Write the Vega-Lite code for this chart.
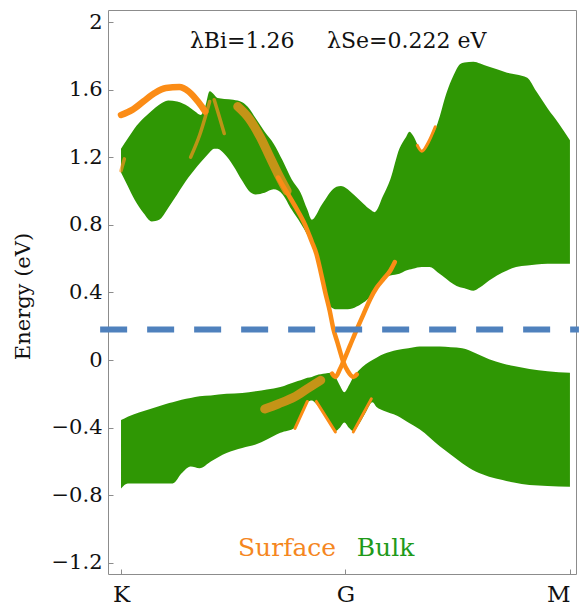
{
  "$schema": "https://vega.github.io/schema/vega-lite/v6.json",
  "width": 468,
  "height": 564,
  "autosize": {"type": "none"},
  "padding": {"left": 108, "top": 10, "right": 3, "bottom": 33},
  "background": "white",
  "config": {
    "view": {"stroke": "#8c8c8c", "strokeWidth": 1},
    "font": "DejaVu Serif"
  },
  "datasets": {
    "bulk": [
      {"b":"c","x":0.00,"y":1.11,"y2":1.25},{"b":"c","x":0.03,"y":1.03,"y2":1.31},{"b":"c","x":0.06,"y":0.95,"y2":1.37},
      {"b":"c","x":0.10,"y":0.87,"y2":1.43},{"b":"c","x":0.137,"y":0.82,"y2":1.475},{"b":"c","x":0.17,"y":0.83,"y2":1.51},
      {"b":"c","x":0.21,"y":0.90,"y2":1.535},{"b":"c","x":0.25,"y":0.98,"y2":1.53},{"b":"c","x":0.30,"y":1.08,"y2":1.50},
      {"b":"c","x":0.33,"y":1.13,"y2":1.47},{"b":"c","x":0.355,"y":1.17,"y2":1.45},{"b":"c","x":0.375,"y":1.20,"y2":1.50},
      {"b":"c","x":0.395,"y":1.23,"y2":1.59},{"b":"c","x":0.415,"y":1.25,"y2":1.57},{"b":"c","x":0.43,"y":1.25,"y2":1.55},
      {"b":"c","x":0.46,"y":1.22,"y2":1.545},{"b":"c","x":0.50,"y":1.15,"y2":1.54},{"b":"c","x":0.54,"y":1.06,"y2":1.525},
      {"b":"c","x":0.57,"y":1.00,"y2":1.49},{"b":"c","x":0.60,"y":0.98,"y2":1.43},{"b":"c","x":0.64,"y":0.99,"y2":1.35},
      {"b":"c","x":0.68,"y":1.01,"y2":1.28},{"b":"c","x":0.72,"y":0.98,"y2":1.18},{"b":"c","x":0.76,"y":0.89,"y2":1.07},
      {"b":"c","x":0.80,"y":0.81,"y2":0.99},{"b":"c","x":0.83,"y":0.74,"y2":0.89},{"b":"c","x":0.85,"y":0.68,"y2":0.83},
      {"b":"c","x":0.87,"y":0.60,"y2":0.86},{"b":"c","x":0.89,"y":0.50,"y2":0.91},{"b":"c","x":0.91,"y":0.38,"y2":0.95},
      {"b":"c","x":0.93,"y":0.32,"y2":0.99},{"b":"c","x":0.96,"y":0.30,"y2":1.025},{"b":"c","x":0.98,"y":0.30,"y2":1.03},
      {"b":"c","x":1.00,"y":0.30,"y2":1.02},{"b":"c","x":1.04,"y":0.31,"y2":0.975},{"b":"c","x":1.08,"y":0.34,"y2":0.925},
      {"b":"c","x":1.11,"y":0.375,"y2":0.89},{"b":"c","x":1.13,"y":0.41,"y2":0.875},{"b":"c","x":1.167,"y":0.48,"y2":0.97},
      {"b":"c","x":1.20,"y":0.50,"y2":1.07},{"b":"c","x":1.24,"y":0.51,"y2":1.25},{"b":"c","x":1.27,"y":0.53,"y2":1.32},
      {"b":"c","x":1.285,"y":0.535,"y2":1.35},{"b":"c","x":1.30,"y":0.54,"y2":1.33},{"b":"c","x":1.34,"y":0.55,"y2":1.24},
      {"b":"c","x":1.375,"y":0.55,"y2":1.30},{"b":"c","x":1.41,"y":0.52,"y2":1.40},{"b":"c","x":1.45,"y":0.48,"y2":1.58},
      {"b":"c","x":1.48,"y":0.45,"y2":1.68},{"b":"c","x":1.51,"y":0.43,"y2":1.75},{"b":"c","x":1.53,"y":0.425,"y2":1.76},
      {"b":"c","x":1.57,"y":0.41,"y2":1.765},{"b":"c","x":1.60,"y":0.43,"y2":1.755},{"b":"c","x":1.64,"y":0.47,"y2":1.735},
      {"b":"c","x":1.675,"y":0.50,"y2":1.72},{"b":"c","x":1.72,"y":0.53,"y2":1.70},{"b":"c","x":1.76,"y":0.55,"y2":1.69},
      {"b":"c","x":1.81,"y":0.56,"y2":1.67},{"b":"c","x":1.85,"y":0.565,"y2":1.59},{"b":"c","x":1.90,"y":0.57,"y2":1.49},
      {"b":"c","x":1.95,"y":0.57,"y2":1.40},{"b":"c","x":2.00,"y":0.57,"y2":1.30},
      {"b":"v","x":0.00,"y":-0.76,"y2":-0.355},{"b":"v","x":0.03,"y":-0.73,"y2":-0.335},{"b":"v","x":0.08,"y":-0.73,"y2":-0.31},
      {"b":"v","x":0.13,"y":-0.73,"y2":-0.29},{"b":"v","x":0.20,"y":-0.73,"y2":-0.26},{"b":"v","x":0.23,"y":-0.73,"y2":-0.25},
      {"b":"v","x":0.27,"y":-0.67,"y2":-0.235},{"b":"v","x":0.31,"y":-0.63,"y2":-0.225},{"b":"v","x":0.35,"y":-0.64,"y2":-0.215},
      {"b":"v","x":0.40,"y":-0.60,"y2":-0.21},{"b":"v","x":0.47,"y":-0.55,"y2":-0.20},{"b":"v","x":0.54,"y":-0.52,"y2":-0.195},
      {"b":"v","x":0.60,"y":-0.50,"y2":-0.185},{"b":"v","x":0.65,"y":-0.47,"y2":-0.175},{"b":"v","x":0.71,"y":-0.43,"y2":-0.16},
      {"b":"v","x":0.775,"y":-0.40,"y2":-0.13},{"b":"v","x":0.80,"y":-0.33,"y2":-0.12},{"b":"v","x":0.83,"y":-0.25,"y2":-0.105},
      {"b":"v","x":0.85,"y":-0.24,"y2":-0.10},{"b":"v","x":0.87,"y":-0.26,"y2":-0.09},{"b":"v","x":0.91,"y":-0.33,"y2":-0.08},
      {"b":"v","x":0.935,"y":-0.38,"y2":-0.075},{"b":"v","x":0.955,"y":-0.42,"y2":-0.10},{"b":"v","x":0.975,"y":-0.40,"y2":-0.15},
      {"b":"v","x":0.995,"y":-0.37,"y2":-0.19},{"b":"v","x":1.015,"y":-0.40,"y2":-0.15},{"b":"v","x":1.035,"y":-0.42,"y2":-0.10},
      {"b":"v","x":1.06,"y":-0.38,"y2":-0.06},{"b":"v","x":1.09,"y":-0.31,"y2":-0.025},{"b":"v","x":1.12,"y":-0.25,"y2":0.0},
      {"b":"v","x":1.14,"y":-0.28,"y2":0.015},{"b":"v","x":1.17,"y":-0.30,"y2":0.035},{"b":"v","x":1.23,"y":-0.33,"y2":0.06},
      {"b":"v","x":1.28,"y":-0.37,"y2":0.07},{"b":"v","x":1.33,"y":-0.41,"y2":0.08},{"b":"v","x":1.42,"y":-0.51,"y2":0.08},
      {"b":"v","x":1.47,"y":-0.56,"y2":0.075},{"b":"v","x":1.52,"y":-0.61,"y2":0.07},{"b":"v","x":1.58,"y":-0.66,"y2":0.04},
      {"b":"v","x":1.64,"y":-0.69,"y2":0.005},{"b":"v","x":1.70,"y":-0.71,"y2":-0.02},{"b":"v","x":1.75,"y":-0.725,"y2":-0.035},
      {"b":"v","x":1.82,"y":-0.74,"y2":-0.053},{"b":"v","x":1.90,"y":-0.745,"y2":-0.066},{"b":"v","x":2.00,"y":-0.75,"y2":-0.075}
    ],
    "tintWide": [
      {"s":"t1","x":0.52,"y":1.50},{"s":"t1","x":0.57,"y":1.43},{"s":"t1","x":0.62,"y":1.32},{"s":"t1","x":0.66,"y":1.21},
      {"s":"t1","x":0.70,"y":1.10},{"s":"t1","x":0.74,"y":1.00},
      {"s":"t3","x":0.64,"y":-0.29},{"s":"t3","x":0.70,"y":-0.26},{"s":"t3","x":0.77,"y":-0.22},{"s":"t3","x":0.83,"y":-0.17},{"s":"t3","x":0.89,"y":-0.12}
    ],
    "tintNarrow": [
      {"s":"t2","x":0.31,"y":1.20},{"s":"t2","x":0.35,"y":1.33},{"s":"t2","x":0.395,"y":1.53},
      {"s":"t6","x":0.0,"y":1.12},{"s":"t6","x":0.015,"y":1.19},
      {"s":"t7","x":0.415,"y":1.54},{"s":"t7","x":0.44,"y":1.43},{"s":"t7","x":0.46,"y":1.34}
    ],
    "surfThick": [
      {"s":"s1","x":0.00,"y":1.45},{"s":"s1","x":0.05,"y":1.48},{"s":"s1","x":0.10,"y":1.53},{"s":"s1","x":0.15,"y":1.58},
      {"s":"s1","x":0.20,"y":1.61},{"s":"s1","x":0.26,"y":1.615},{"s":"s1","x":0.30,"y":1.59},{"s":"s1","x":0.33,"y":1.55},
      {"s":"s1","x":0.36,"y":1.50},{"s":"s1","x":0.375,"y":1.47}
    ],
    "surfMain": [
      {"s":"s2","x":0.70,"y":1.08},{"s":"s2","x":0.74,"y":0.99},{"s":"s2","x":0.78,"y":0.90},{"s":"s2","x":0.82,"y":0.80},
      {"s":"s2","x":0.85,"y":0.70},{"s":"s2","x":0.87,"y":0.63},{"s":"s2","x":0.89,"y":0.52},{"s":"s2","x":0.91,"y":0.40},
      {"s":"s2","x":0.93,"y":0.29},{"s":"s2","x":0.945,"y":0.19},{"s":"s2","x":0.965,"y":0.10},{"s":"s2","x":0.99,"y":-0.01},
      {"s":"s2","x":1.01,"y":-0.065},{"s":"s2","x":1.035,"y":-0.10},{"s":"s2","x":1.05,"y":-0.085},
      {"s":"s3","x":0.94,"y":-0.08},{"s":"s3","x":0.955,"y":-0.10},{"s":"s3","x":0.975,"y":-0.055},{"s":"s3","x":0.99,"y":-0.01},
      {"s":"s3","x":1.02,"y":0.085},{"s":"s3","x":1.05,"y":0.18},{"s":"s3","x":1.08,"y":0.27},{"s":"s3","x":1.11,"y":0.36},
      {"s":"s3","x":1.14,"y":0.43},{"s":"s3","x":1.17,"y":0.48},{"s":"s3","x":1.20,"y":0.53},{"s":"s3","x":1.22,"y":0.58}
    ],
    "surfThin": [
      {"s":"v1","x":0.775,"y":-0.405},{"s":"v1","x":0.83,"y":-0.245},
      {"s":"v2","x":0.87,"y":-0.245},{"s":"v2","x":0.955,"y":-0.425},
      {"s":"v3","x":1.035,"y":-0.425},{"s":"v3","x":1.115,"y":-0.23},
      {"s":"n1","x":1.32,"y":1.27},{"s":"n1","x":1.34,"y":1.235},{"s":"n1","x":1.37,"y":1.29},{"s":"n1","x":1.40,"y":1.38}
    ],
    "fermi": [{"x":-0.093,"x2":2.04,"y":0.18}],
    "head": [{"x":0.307,"y":1.848,"t":"λBi=1.26"},{"x":0.918,"y":1.848,"t":"λSe=0.222 eV"}],
    "surfLabel": [{"x":0.521,"y":-1.16,"t":"Surface"}],
    "bulkLabel": [{"x":1.05,"y":-1.16,"t":"Bulk"}]
  },
  "layer": [
    {
      "data": {"name": "bulk"},
      "mark": {"type": "area", "interpolate": "monotone", "color": "#2f9704", "opacity": 1},
      "encoding": {
        "x": {"field": "x", "type": "quantitative",
              "scale": {"domain": [-0.058, 2.027], "nice": false, "zero": false},
              "axis": {"values": [0, 1, 2], "labelExpr": "datum.value == 0 ? 'K' : datum.value == 1 ? 'G' : 'M'",
                       "title": null, "grid": false, "domain": false, "tickSize": -5, "tickColor": "#8c8c8c",
                       "labelFlush": 10, "labelFlushOffset": 0,
                       "labelFont": "DejaVu Serif", "labelFontSize": 23, "labelColor": "#111111", "labelPadding": 14}},
        "y": {"field": "y", "type": "quantitative",
              "scale": {"domain": [-1.266, 2.071], "nice": false, "zero": false},
              "axis": {"values": [-1.2, -0.8, -0.4, 0, 0.4, 0.8, 1.2, 1.6, 2], "format": ".1~f",
                       "title": "Energy (eV)", "titleFont": "DejaVu Serif", "titleFontSize": 21, "titleFontWeight": "normal",
                       "titleColor": "#111111", "titleX": -75, "titleY": 286,
                       "grid": false, "domain": false, "tickSize": -5, "tickColor": "#8c8c8c",
                       "labelFont": "DejaVu Serif", "labelFontSize": 21, "labelColor": "#111111", "labelPadding": 11}},
        "y2": {"field": "y2"},
        "detail": {"field": "b", "type": "nominal"}
      }
    },
    {
      "data": {"name": "tintWide"},
      "mark": {"type": "line", "interpolate": "monotone", "color": "#f7931e", "strokeWidth": 9, "opacity": 0.75, "strokeCap": "round"},
      "encoding": {
        "x": {"field": "x", "type": "quantitative"},
        "y": {"field": "y", "type": "quantitative"},
        "detail": {"field": "s", "type": "nominal"}
      }
    },
    {
      "data": {"name": "tintNarrow"},
      "mark": {"type": "line", "interpolate": "monotone", "color": "#f7931e", "strokeWidth": 3.5, "opacity": 0.7, "strokeCap": "round"},
      "encoding": {
        "x": {"field": "x", "type": "quantitative"},
        "y": {"field": "y", "type": "quantitative"},
        "detail": {"field": "s", "type": "nominal"}
      }
    },
    {
      "data": {"name": "surfThick"},
      "mark": {"type": "line", "interpolate": "monotone", "color": "#fb8c16", "strokeWidth": 6.5, "strokeCap": "round"},
      "encoding": {
        "x": {"field": "x", "type": "quantitative"},
        "y": {"field": "y", "type": "quantitative"},
        "detail": {"field": "s", "type": "nominal"}
      }
    },
    {
      "data": {"name": "surfMain"},
      "mark": {"type": "line", "interpolate": "monotone", "color": "#fb8c16", "strokeWidth": 4.5, "strokeCap": "round"},
      "encoding": {
        "x": {"field": "x", "type": "quantitative"},
        "y": {"field": "y", "type": "quantitative"},
        "detail": {"field": "s", "type": "nominal"}
      }
    },
    {
      "data": {"name": "surfThin"},
      "mark": {"type": "line", "interpolate": "monotone", "color": "#fb8c16", "strokeWidth": 3, "strokeCap": "round"},
      "encoding": {
        "x": {"field": "x", "type": "quantitative"},
        "y": {"field": "y", "type": "quantitative"},
        "detail": {"field": "s", "type": "nominal"}
      }
    },
    {
      "data": {"name": "fermi"},
      "mark": {"type": "rule", "color": "#4f81bd", "strokeWidth": 6, "strokeDash": [27, 20], "clip": false},
      "encoding": {
        "x": {"field": "x", "type": "quantitative"},
        "x2": {"field": "x2"},
        "y": {"field": "y", "type": "quantitative"}
      }
    },
    {
      "data": {"name": "head"},
      "mark": {"type": "text", "align": "left", "baseline": "alphabetic", "font": "DejaVu Serif", "fontSize": 22, "color": "#111111"},
      "encoding": {
        "x": {"field": "x", "type": "quantitative"},
        "y": {"field": "y", "type": "quantitative"},
        "text": {"field": "t"}
      }
    },
    {
      "data": {"name": "surfLabel"},
      "mark": {"type": "text", "align": "left", "baseline": "alphabetic", "font": "DejaVu Serif", "fontSize": 25, "color": "#f5871f"},
      "encoding": {
        "x": {"field": "x", "type": "quantitative"},
        "y": {"field": "y", "type": "quantitative"},
        "text": {"field": "t"}
      }
    },
    {
      "data": {"name": "bulkLabel"},
      "mark": {"type": "text", "align": "left", "baseline": "alphabetic", "font": "DejaVu Serif", "fontSize": 25, "color": "#1f9a1a"},
      "encoding": {
        "x": {"field": "x", "type": "quantitative"},
        "y": {"field": "y", "type": "quantitative"},
        "text": {"field": "t"}
      }
    }
  ]
}
